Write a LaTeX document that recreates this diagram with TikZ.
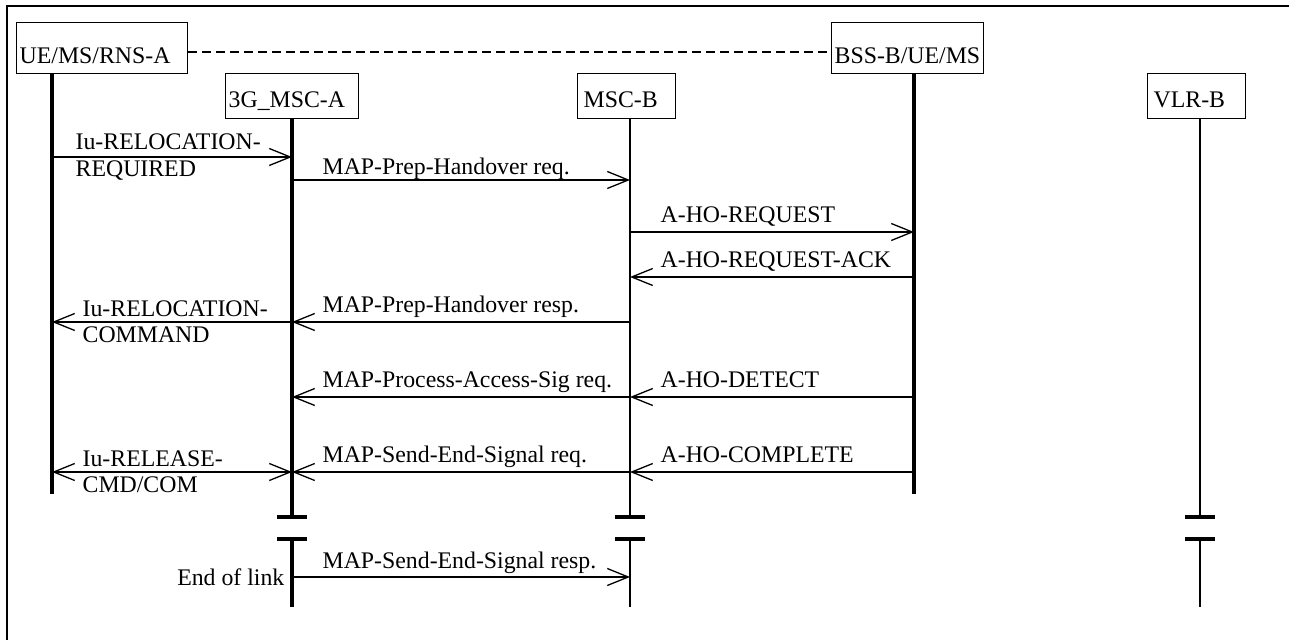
\documentclass[tikz,border=0pt]{standalone}
\usepackage{fontspec}
\setmainfont{Liberation Serif}
\usetikzlibrary{arrows.meta}

\begin{document}
\begin{tikzpicture}[x=0.5pt,y=-0.5pt,
                    >={Straight Barb[length=10.5pt,width=8.5pt]},
                    every node/.style={font=\fontsize{11.9}{13.2}\selectfont},
                    entity node/.style={draw,line width=0.7pt,anchor=north west,
                                        inner xsep=1.5pt,inner ysep=0pt,align=left},
                    tall/.style={text height=20.5pt,text depth=5pt},
                    short/.style={text height=17pt,text depth=5.5pt},
                    life line/.style={line width=2pt},
                    thin line/.style={line width=1.35pt},
                    cut/.style={line width=1.65pt},
                    msg/.style={->,line width=0.65pt},
                    msg label/.style={anchor=base west,inner sep=0pt,xshift=15pt,yshift=4.5pt},
                    two line label/.style={anchor=west,align=left,inner sep=0pt,xshift=15pt,yshift=0pt}]

  \useasboundingbox (0,0) rectangle (1289,640);
  \draw[line width=0.7pt] (1289,6) -- (7,6) -- (7,640);

  \node[entity node,tall,text width=82.5pt] (ue) at (16,22) {UE/MS/RNS-A};
  \node[entity node,short,text width=63.5pt] (msca) at (225,73) {3G\_MSC-A};
  \node[entity node,short,inner xsep=3pt,text width=43pt] (mscb) at (577,73) {MSC-B};
  \node[entity node,tall,text width=73pt] (bss) at (831,22) {BSS-B/UE/MS};
  \node[entity node,short,inner xsep=3pt,text width=43pt] (vlr) at (1147,73) {VLR-B};

  \draw[dash pattern=on 4.5pt off 2.5pt,line width=0.65pt] (ue.east |- 0,52) -- (bss.west |- 0,52);

  % life lines
  \coordinate (ueL)   at (52,73);
  \coordinate (mscaL) at (292,119);
  \coordinate (mscbL) at (630,119);
  \coordinate (bssL)  at (914,73);
  \coordinate (vlrL)  at (1200,119);

  \draw[life line] (ueL) -- (ueL |- 0,494);
  \draw[life line] (bssL) -- (bssL |- 0,494);
  \foreach \l/\w in {mscaL/life line,mscbL/thin line,vlrL/thin line} {
    \draw[\w] (\l) -- (\l |- 0,517);
    \draw[\w] (\l |- 0,539) -- (\l |- 0,607);
    \draw[cut] (\l |- 0,517) ++(-15,0) -- ++(30,0);
    \draw[cut] (\l |- 0,539) ++(-15,0) -- ++(30,0);
  }

  % messages
  \draw[msg] (ueL |- 0,157) -- (mscaL |- 0,157)
    node[two line label,xshift=-3.5pt,at start] (m1) {Iu-RELOCATION-\\REQUIRED};
  \draw[msg] (mscaL |- 0,180) -- (mscbL |- 0,180)
    node[msg label,yshift=-2pt,at start] (m2) {MAP-Prep-Handover req.};
  \draw[msg] (mscbL |- 0,232) -- (bssL |- 0,232)
    node[msg label,at start] (m3) {A-HO-REQUEST};
  \draw[msg,<-] (mscbL |- 0,277) -- (bssL |- 0,277)
    node[msg label,at start] (m4) {A-HO-REQUEST-ACK};
  \draw[msg,<-] (mscaL |- 0,322) -- (mscbL |- 0,322)
    node[msg label,at start] (m5) {MAP-Prep-Handover resp.};
  \draw[msg,<-] (ueL |- 0,322) -- (mscaL |- 0,322)
    node[two line label,at start] (m6) {Iu-RELOCATION-\\COMMAND};
  \draw[msg,<-] (mscbL |- 0,397) -- (bssL |- 0,397)
    node[msg label,at start] (m7) {A-HO-DETECT};
  \draw[msg,<-] (mscaL |- 0,397) -- (mscbL |- 0,397)
    node[msg label,at start] (m8) {MAP-Process-Access-Sig req.};
  \draw[msg,<-] (mscbL |- 0,472) -- (bssL |- 0,472)
    node[msg label,at start] (m9) {A-HO-COMPLETE};
  \draw[msg,<-] (mscaL |- 0,472) -- (mscbL |- 0,472)
    node[msg label,at start] (m10) {MAP-Send-End-Signal req.};
  \draw[msg,<->] (ueL |- 0,472) -- (mscaL |- 0,472)
    node[two line label,at start] (m11) {Iu-RELEASE-\\CMD/COM};
  \draw[msg] (mscaL |- 0,577) -- (mscbL |- 0,577)
    node[msg label,at start] (m12) {MAP-Send-End-Signal resp.}
    node[left,inner sep=3.5pt,at start] (eol) {End of link};
\end{tikzpicture}
\end{document}
